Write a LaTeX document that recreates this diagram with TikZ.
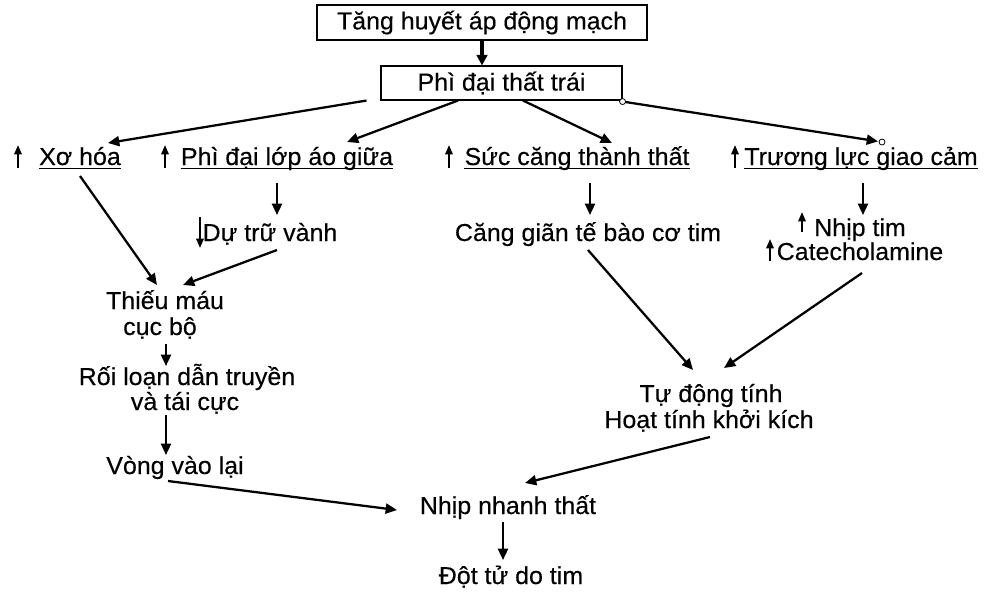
\documentclass[tikz,border=0pt]{standalone}
\usepackage{fontspec}
\setmainfont{Liberation Sans}[FakeBold=0.3]
\usepackage{graphicx}
\usetikzlibrary{arrows.meta,calc}
\newcommand\sx[1]{\scalebox{1.04}[1.02]{#1}}
\tikzset{
  txt/.style={inner sep=0pt, anchor=base, font=\fontsize{18}{21}\selectfont},
  box/.style={draw, line width=0.8pt, inner sep=0pt, font=\fontsize{18}{21}\selectfont},
  arr/.style={line width=1.7pt, -{Triangle[length=8.5pt,width=7.5pt]}},
  thk/.style={line width=2.6pt, -{Triangle[length=8pt,width=8pt]}},
  upar/.style={line width=1.5pt, -{Triangle[length=7pt,width=5.5pt]}},
  uline/.style={line width=0.7pt},
  dot/.style={draw, line width=0.6pt, fill=white}
}
\begin{document}
\begin{tikzpicture}[x=0.75pt,y=-0.75pt]
\useasboundingbox[fill=white] (0,0) rectangle (989,594);
% boxes
\node[box, minimum width=247.5pt, minimum height=26.25pt] (b1) at (482,22.5) {\sx{Tăng huyết áp động mạch}};
\node[box, minimum width=180.75pt, minimum height=25.5pt] (b2) at (501.5,83) {\sx{Phì đại thất trái}};
% text nodes
\node[txt] (xh) at (80,165) {\sx{Xơ hóa}};
\node[txt] (pd) at (287,165) {\sx{Phì đại lớp áo giữa}};
\node[txt] (sc) at (577,165) {\sx{Sức căng thành thất}};
\node[txt] (tl) at (861,165) {\sx{Trương lực giao cảm}};
\node[txt] (dt) at (270,241) {\sx{Dự trữ vành}};
\node[txt] (cg) at (588,241) {\sx{Căng giãn tế bào cơ tim}};
\node[txt] (nt) at (860,236) {\sx{Nhịp tim}};
\node[txt] (ca) at (860,260) {\sx{Catecholamine}};
\node[txt] (tm1) at (165,309) {\sx{Thiếu máu}};
\node[txt] (tm2) at (160,335) {\sx{cục bộ}};
\node[txt] (rl1) at (187,385) {\sx{Rối loạn dẫn truyền}};
\node[txt] (rl2) at (185,410) {\sx{và tái cực}};
\node[txt] (vv) at (175,474) {\sx{Vòng vào lại}};
\node[txt] (td1) at (711,402) {\sx{Tự động tính}};
\node[txt] (td2) at (709,428) {\sx{Hoạt tính khởi kích}};
\node[txt] (nn) at (508,514) {\sx{Nhịp nhanh thất}};
\node[txt] (dtt) at (511,584) {\sx{Đột tử do tim}};
% underlines
\foreach \n in {xh,pd,sc,tl}{
  \draw[uline] ($(\n.base west)+(0,3)$) -- ($(\n.base east)+(0,3)$);
}
% small up/down arrows
\draw[upar] ($(xh.base)+(-62,3)$) -- ($(xh.base)+(-62,-20)$);
\draw[upar] ($(pd.base)+(-122,3)$) -- ($(pd.base)+(-122,-20)$);
\draw[upar] ($(sc.base)+(-128,3)$) -- ($(sc.base)+(-128,-20)$);
\draw[upar] ($(tl.base)+(-126,3)$) -- ($(tl.base)+(-126,-20)$);
\draw[upar] ($(dt.base)+(-70,-24)$) -- ($(dt.base)+(-70,7)$);
\draw[upar] ($(nt.base)+(-58,-4)$) -- ($(nt.base)+(-58,-24)$);
\draw[upar] ($(ca.base)+(-90,1)$) -- ($(ca.base)+(-90,-21)$);
% connectors
\draw[thk] (b1.south) -- (b1.south |- b2.north);
\draw[arr] ($(b2.south west)+(-14,0)$) -- ($(xh.base)+(28,-22)$);
\draw[arr] ($(b2.south)+(-43.5,0)$) -- ($(pd.base)+(60,-23)$);
\draw[arr] ($(b2.south)+(21.5,0)$) -- ($(sc.base)+(35,-22)$);
\draw[arr, shorten >=3pt] ($(b2.south east)+(0,1)$) coordinate (c5a) -- ($(tl.base)+(21,-23)$) coordinate (c5b);
\draw[dot] (c5a) circle (3);
\draw[dot] (c5b) circle (3);
\draw[arr] ($(xh.base)+(0,11)$) -- ($(tm1.base)+(-8,-24)$);
\draw[arr] ($(pd.base)+(-10,18)$) -- ($(dt.base)+(7,-26)$);
\draw[arr] ($(dt.base)+(7,9)$) -- ($(tm1.base)+(18,-24)$);
\draw[arr] ($(tm2.base)+(6,9)$) -- ($(rl1.base)+(-21,-19)$);
\draw[arr] ($(rl2.base)+(-19,5)$) -- ($(vv.base)+(-9,-19)$);
\draw[arr] ($(vv.base)+(-7,7)$) -- ($(nn.base)+(-111,-4)$);
\draw[arr] ($(nn.base)+(-5,8)$) -- ($(dtt.base)+(-8,-24)$);
\draw[arr] ($(sc.base)+(13,18)$) -- ($(cg.base)+(2,-26)$);
\draw[arr] ($(tl.base)+(2,18)$) -- ($(nt.base)+(3,-21)$);
\draw[arr] ($(cg.base)+(0,9)$) -- ($(td1.base)+(-18,-32)$);
\draw[arr] ($(ca.base)+(2,13)$) -- ($(td1.base)+(13,-34)$);
\draw[arr] ($(td2.base)+(1,9)$) -- ($(nn.base)+(17,-31)$);
\end{tikzpicture}
\end{document}
